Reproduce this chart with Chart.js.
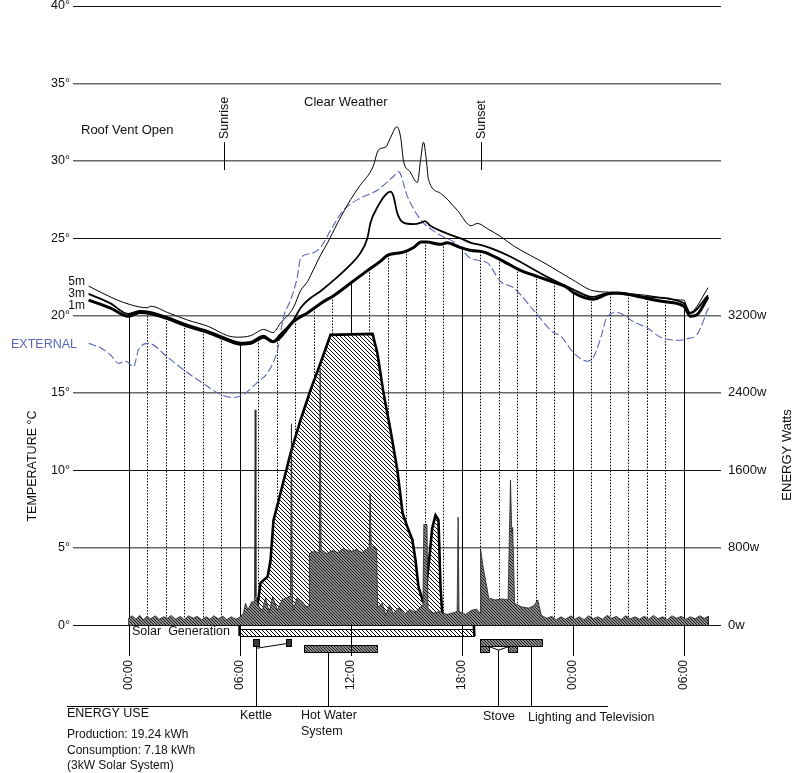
<!DOCTYPE html>
<html>
<head>
<meta charset="utf-8">
<script src="https://cdn.jsdelivr.net/npm/chart.js@4/dist/chart.umd.min.js"></script>
<style>
  html, body { margin: 0; padding: 0; background: #fff; }
  canvas { display: block; }
</style>
</head>
<body>
<canvas id="chart" width="792" height="773"></canvas>
<script>
// ---- axis ticks ----
const TIME_TICKS = [0, 6, 12, 18, 24, 30];
const TIME_LABELS = ['00:00', '06:00', '12:00', '18:00', '00:00', '06:00'];
const TEMP_TICKS = [0, 5, 10, 15, 20, 25, 30, 35, 40];
const WATT_TICKS = [0, 800, 1600, 2400, 3200];

// ---- temperatures, [hour, °C] (hours counted from the first midnight) ----
const TEMP_5M = [
  [-2.16, 21.9], [-1.5, 21.5], [-0.6, 21.0], [0.1, 20.7], [1.0, 20.5], [1.2, 20.6], [2.1, 20.2],
  [3.2, 19.7], [4.3, 19.3], [5.35, 18.7], [5.9, 18.6], [6.6, 18.7], [7.3, 19.1], [7.8, 18.9],
  [8.2, 19.5], [8.9, 20.5], [9.29, 21.6], [9.67, 22.2], [10.0, 23.0], [10.37, 23.9], [10.75, 24.7],
  [11.3, 26.0], [12.0, 27.5], [12.5, 28.4], [13.2, 29.6], [13.5, 30.7], [13.9, 30.9], [14.15, 31.5],
  [14.5, 32.2], [14.7, 31.5], [14.85, 30.0], [15.2, 29.3], [15.6, 28.6], [15.77, 30.0], [15.93, 31.2],
  [16.09, 30.0], [16.2, 28.8], [16.85, 27.9], [17.76, 26.8], [18.5, 25.8], [18.84, 25.95], [19.4, 25.6],
  [20.1, 25.1], [20.8, 24.5], [22.6, 23.3], [24.0, 22.3], [25.1, 21.6], [26.2, 21.5], [28.0, 21.3],
  [29.8, 21.0], [30.0, 21.0], [30.24, 20.2], [30.5, 20.3], [31.3, 21.8]
];
const TEMP_3M = [
  [-2.16, 21.4], [-1.0, 20.8], [0, 20.1], [0.6, 20.3], [1.1, 20.25], [2.1, 19.9], [3.2, 19.4],
  [4.3, 19.0], [5.35, 18.5], [6.05, 18.25], [6.6, 18.3], [7.3, 18.7], [7.8, 18.35], [8.2, 18.8],
  [8.9, 19.7], [9.3, 20.5], [9.7, 21.0], [10.4, 21.6], [11.1, 22.3], [12.0, 23.3], [12.5, 24.0],
  [12.9, 25.0], [13.07, 26.0], [13.44, 27.0], [13.88, 27.8], [14.15, 28.0], [14.31, 27.7], [14.52, 26.6],
  [14.85, 26.0], [15.4, 25.9], [15.8, 26.0], [16.0, 26.1], [16.3, 25.8], [17.2, 25.3], [17.9, 25.0],
  [18.5, 24.7], [19.2, 24.5], [20.1, 24.1], [20.8, 23.7], [22.6, 22.5], [24.0, 21.7], [25.05, 21.2],
  [25.9, 21.45], [28.0, 21.2], [30.0, 20.8], [30.35, 20.15], [31.3, 21.3]
];
const TEMP_1M = [
  [-2.16, 21.0], [-1.0, 20.5], [0, 19.95], [0.6, 20.2], [1.1, 20.15], [2.1, 19.8], [3.2, 19.3],
  [4.3, 18.9], [5.35, 18.4], [6.05, 18.15], [6.6, 18.2], [7.3, 18.6], [7.8, 18.3], [8.2, 18.6],
  [8.9, 19.6], [9.7, 20.2], [10.4, 20.8], [11.1, 21.3], [12.0, 22.1], [12.9, 22.9], [13.6, 23.5],
  [14.0, 23.9], [14.85, 24.1], [15.4, 24.4], [15.8, 24.75], [16.1, 24.75], [16.85, 24.6], [17.2, 24.7],
  [17.9, 24.4], [18.5, 24.2], [19.2, 24.1], [20.1, 23.6], [21.2, 22.9], [21.9, 22.6], [22.6, 22.3],
  [23.7, 21.8], [24.0, 21.5], [25.1, 21.05], [25.9, 21.4], [26.4, 21.45], [27.3, 21.3], [28.0, 21.1],
  [28.9, 20.9], [30.0, 20.6], [30.35, 19.95], [30.7, 20.05], [31.3, 21.2]
];
const TEMP_EXTERNAL = [
  [-2.16, 18.2], [-1.5, 17.9], [-0.97, 17.45], [-0.54, 16.9], [-0.16, 17.05], [0.27, 16.7], [0.54, 17.8],
  [1.08, 18.2], [2.11, 17.3], [3.19, 16.3], [4.05, 15.6], [4.97, 14.9], [5.67, 14.7], [6.21, 14.9],
  [6.97, 15.7], [7.51, 16.3], [8.05, 17.8], [8.37, 19.9], [8.75, 21.0], [9.1, 22.4], [9.29, 23.7],
  [9.83, 24.0], [10.37, 24.4], [10.91, 25.5], [11.61, 26.8], [12.53, 27.6], [13.44, 28.1], [14.31, 29.0],
  [14.58, 29.3], [15.06, 27.7], [15.77, 26.2], [16.68, 25.3], [17.76, 24.6], [18.47, 23.7], [19.38, 23.4],
  [20.09, 22.2], [20.79, 21.8], [21.87, 20.35], [22.95, 18.9], [23.33, 18.7], [24.03, 17.6], [24.78, 17.05],
  [25.11, 17.3], [25.49, 18.5], [25.86, 19.95], [26.4, 20.2], [27.27, 19.6], [28.02, 19.2], [28.73, 18.6],
  [29.81, 18.4], [30.18, 18.5], [30.72, 18.8], [31.32, 20.5]
];

// ---- energy, [hour, watts] ----
const SOLAR_W = [
  [6.0, -114], [6.0, 30], [6.32, 125], [6.97, 210], [7.13, 435], [7.51, 500], [7.67, 670], [7.83, 1085],
  [8.21, 1365], [8.75, 1775], [9.29, 2120], [9.83, 2430], [10.37, 2710], [10.91, 3000], [13.18, 3010],
  [13.44, 2810], [13.77, 2400], [14.15, 2015], [14.52, 1600], [14.8, 1160], [15.06, 1015], [15.33, 880],
  [15.5, 670], [15.66, 395], [15.88, 260], [15.98, 225], [16.25, 700], [16.4, 1000], [16.58, 1135],
  [16.74, 1085], [16.85, 395], [16.95, 100], [17.76, 85], [18.25, 60], [18.5, 45], [18.65, 0], [18.68, -114]
];
const CONSUMPTION_W = [
  [0, 0], [0, 70], [0.2, 95], [0.4, 60], [0.6, 100], [0.8, 55], [1.0, 90], [1.2, 65], [1.45, 95],
  [1.65, 60], [1.9, 85], [2.1, 70], [2.3, 100], [2.55, 60], [2.8, 90], [3.0, 55], [3.25, 95], [3.5, 70],
  [3.7, 90], [3.95, 55], [4.2, 85], [4.4, 60], [4.6, 95], [4.85, 65], [5.1, 90], [5.3, 55], [5.55, 85],
  [5.8, 60], [6.0, 80], [6.2, 120], [6.32, 225], [6.45, 155], [6.65, 240], [6.8, 240], [6.84, 2225],
  [6.88, 300], [6.97, 225], [7.2, 125], [7.4, 280], [7.6, 125], [7.78, 290], [8.05, 155], [8.3, 260],
  [8.75, 300], [8.8, 2080], [8.85, 260], [8.9, 155], [9.1, 280], [9.4, 240], [9.6, 185], [9.75, 200],
  [9.77, 740], [10.0, 760], [10.3, 750], [10.35, 2640], [10.4, 780], [10.7, 740], [11.0, 770], [11.3, 750],
  [11.6, 790], [12.0, 760], [12.3, 780], [12.6, 750], [12.9, 790], [13.0, 800], [13.05, 1365], [13.1, 820],
  [13.4, 790], [13.45, 185], [13.7, 225], [13.9, 100], [14.1, 210], [14.3, 120], [14.6, 180], [14.9, 110],
  [15.2, 160], [15.5, 130], [15.75, 185], [15.9, 200], [15.95, 1040], [16.12, 1040], [16.17, 180],
  [16.4, 120], [16.8, 140], [17.2, 110], [17.6, 130], [17.75, 140], [17.8, 1115], [17.85, 140], [18.2, 110],
  [18.5, 150], [18.8, 165], [19.0, 120], [19.02, 775], [19.15, 600], [19.35, 395], [19.45, 280], [19.8, 260],
  [20.2, 270], [20.5, 260], [20.63, 1500], [20.7, 950], [20.75, 1010], [20.85, 225], [21.2, 190],
  [21.6, 175], [21.9, 200], [22.1, 260], [22.3, 100], [22.6, 70], [22.85, 90], [23.1, 55], [23.35, 85],
  [23.6, 60], [23.9, 95], [24.1, 60], [24.35, 85], [24.6, 55], [24.85, 95], [25.1, 65], [25.35, 85],
  [25.6, 60], [25.85, 100], [26.1, 70], [26.35, 90], [26.6, 55], [26.85, 95], [27.1, 65], [27.35, 85],
  [27.6, 60], [27.85, 90], [28.1, 60], [28.35, 100], [28.6, 65], [28.85, 85], [29.1, 55], [29.35, 95],
  [29.6, 70], [29.85, 90], [30.1, 60], [30.35, 85], [30.6, 65], [30.85, 95], [31.1, 70], [31.32, 90], [31.32, 0]
];

// ---- appliance periods, [start hour, end hour] ----
const SOLAR_PERIOD = [[6.0, 18.68]];
const KETTLE_USES = [[6.7, 7.02], [8.53, 8.8]];
const HOT_WATER_USES = [[9.5, 13.44]];
const LIGHTING_TV_USES = [[19.0, 22.35]];
const STOVE_USES = [[19.0, 19.49], [20.52, 21.0]];

// ---- day events and notes ----
const SUN_EVENTS = [['Sunrise', 5.13], ['Sunset', 19.03]];
const ENERGY_NOTES = ['Production: 19.24 kWh', 'Consumption: 7.18 kWh', '(3kW Solar System)'];

const FONT = "'Liberation Sans', Arial, Helvetica, sans-serif";
const BLUE = '#5a64bd';
const canvas = document.getElementById('chart');
const ctx2d = canvas.getContext('2d');

function hatch(bg, fg, size, lw) {
  const tile = document.createElement('canvas');
  tile.width = tile.height = size;
  const g = tile.getContext('2d');
  g.fillStyle = bg;
  g.fillRect(0, 0, size, size);
  g.strokeStyle = fg;
  g.lineWidth = lw;
  g.beginPath();
  g.moveTo(-1, -1); g.lineTo(size + 1, size + 1);
  g.moveTo(-1, size - 1); g.lineTo(1, size + 1);
  g.moveTo(size - 1, -1); g.lineTo(size + 1, 1);
  g.stroke();
  return ctx2d.createPattern(tile, 'repeat');
}
const LIGHT_HATCH = hatch('#ffffff', '#000000', 4, 1);
const DARK_HATCH = hatch('#8c8c8c', '#1e1e1e', 3, 1);

const pts = arr => arr.map(([x, y]) => ({ x, y }));

function valueAt(series, h) {
  for (let i = 1; i < series.length; i++) {
    const [x0, y0] = series[i - 1], [x1, y1] = series[i];
    if (h >= x0 && h <= x1) return x1 === x0 ? y1 : y0 + (y1 - y0) * (h - x0) / (x1 - x0);
  }
  return series[series.length - 1][1];
}

function text(ctx, s, x, y, opt = {}) {
  ctx.save();
  ctx.translate(x, y);
  if (opt.rot) ctx.rotate(opt.rot);
  ctx.font = (opt.size || 12.5) + 'px ' + FONT;
  ctx.fillStyle = opt.color || '#111';
  ctx.textAlign = opt.align || 'left';
  ctx.textBaseline = 'middle';
  ctx.fillText(s, 0, 0);
  ctx.restore();
}

// usage rows below the zero line, hour lines dropped from the 1m curve
const decorations = {
  id: 'decorations',
  beforeDatasetsDraw(chart) {
    const { ctx, chartArea, scales: { x, y } } = chart;
    const rect = (h0, h1, v0, v1, fill) => {
      const px0 = Math.round(x.getPixelForValue(h0)) + 0.5;
      const px1 = Math.round(x.getPixelForValue(h1)) + 0.5;
      const py0 = Math.round(y.getPixelForValue(v0)) + 0.5;
      const py1 = Math.round(y.getPixelForValue(v1)) + 0.5;
      ctx.fillStyle = fill;
      ctx.fillRect(px0, py0, px1 - px0, py1 - py0);
      ctx.strokeStyle = '#000';
      ctx.lineWidth = 1;
      ctx.strokeRect(px0, py0, px1 - px0, py1 - py0);
    };
    ctx.save();
    SOLAR_PERIOD.forEach(([a, b]) => rect(a, b, -0.26, -0.71, LIGHT_HATCH));
    KETTLE_USES.forEach(([a, b]) => rect(a, b, -0.9, -1.36, '#3a3a3a'));
    HOT_WATER_USES.forEach(([a, b]) => rect(a, b, -1.29, -1.74, DARK_HATCH));
    LIGHTING_TV_USES.forEach(([a, b]) => rect(a, b, -0.9, -1.36, DARK_HATCH));
    STOVE_USES.forEach(([a, b]) => rect(a, b, -1.36, -1.74, DARK_HATCH));

    ctx.strokeStyle = '#000';
    ctx.lineWidth = 1;
    for (let h = 0; h <= 30; h++) {
      const px = Math.round(x.getPixelForValue(h)) + 0.5;
      const top = y.getPixelForValue(valueAt(TEMP_1M, h));
      const solid = TIME_TICKS.includes(h);
      ctx.setLineDash(solid ? [] : [1.5, 1.5]);
      ctx.beginPath();
      ctx.moveTo(px, top);
      ctx.lineTo(px, solid ? chartArea.bottom : y.getPixelForValue(0));
      ctx.stroke();
    }
    ctx.restore();
  },
  afterDraw(chart) {
    const { ctx, chartArea, scales: { x, y } } = chart;
    ctx.save();
    ctx.strokeStyle = '#000';
    ctx.lineWidth = 1;

    // sunrise / sunset markers
    SUN_EVENTS.forEach(([name, h]) => {
      const px = Math.round(x.getPixelForValue(h)) + 0.5;
      ctx.beginPath();
      ctx.moveTo(px, y.getPixelForValue(31.2));
      ctx.lineTo(px, y.getPixelForValue(29.4));
      ctx.stroke();
      text(ctx, name, px, y.getPixelForValue(31.4), { rot: -Math.PI / 2 });
    });

    // leaders from the usage rows down to the ENERGY USE rule
    const rule = chartArea.bottom + 50;
    const X = h => Math.round(x.getPixelForValue(h)) + 0.5;
    const Y = v => y.getPixelForValue(v);
    ctx.beginPath();
    // kettle
    const k0 = (KETTLE_USES[0][0] + KETTLE_USES[0][1]) / 2;
    ctx.moveTo(X(k0), Y(-1.36)); ctx.lineTo(X(k0), rule);
    ctx.moveTo(X(k0), Y(-1.5)); ctx.lineTo(X(KETTLE_USES[1][0]), Y(-1.2));
    // hot water system
    ctx.moveTo(X(10.8), Y(-1.74)); ctx.lineTo(X(10.8), rule);
    // stove
    ctx.moveTo(X(STOVE_USES[0][1]), Y(-1.4)); ctx.lineTo(X(19.98), Y(-1.62));
    ctx.lineTo(X(STOVE_USES[1][0]), Y(-1.4));
    ctx.moveTo(X(19.98), Y(-1.62)); ctx.lineTo(X(19.98), rule);
    // lighting and television
    ctx.moveTo(X(21.76), Y(-1.36)); ctx.lineTo(X(21.76), rule);
    ctx.stroke();

    ctx.beginPath();
    ctx.moveTo(67, rule + 0.5);
    ctx.lineTo(608, rule + 0.5);
    ctx.stroke();

    // labels
    text(ctx, 'Roof Vent Open', 81, 130, { size: 13 });
    text(ctx, 'Clear Weather', 304, 102, { size: 13 });
    text(ctx, '5m', 85, 282, { align: 'right', size: 12 });
    text(ctx, '3m', 85, 294, { align: 'right', size: 12 });
    text(ctx, '1m', 85, 306, { align: 'right', size: 12 });
    text(ctx, 'EXTERNAL', 11, 345, { color: BLUE, size: 12.5 });
    text(ctx, 'TEMPERATURE \u00B0C', 33, 466, { rot: -Math.PI / 2, align: 'center' });
    text(ctx, 'ENERGY Watts', 787, 455, { rot: -Math.PI / 2, align: 'center', size: 13 });
    text(ctx, 'Solar  Generation', 132, 632, { size: 12.5 });
    text(ctx, 'ENERGY USE', 67, 714, { size: 12.5 });
    ENERGY_NOTES.forEach((s, i) => text(ctx, s, 67, 735 + i * 15.5, { size: 12 }));
    text(ctx, 'Kettle', 240, 716);
    text(ctx, 'Hot Water', 301, 716);
    text(ctx, 'System', 301, 732);
    text(ctx, 'Stove', 483, 717);
    text(ctx, 'Lighting and Television', 528, 718);
    ctx.restore();
  }
};

const tempLine = (data, width, order) => ({
  data: pts(data), yAxisID: 'y', borderColor: '#000', borderWidth: width,
  pointRadius: 0, fill: false, cubicInterpolationMode: 'monotone', order
});

const fixVertical = width => axis => {
  axis.width = width;
  axis.paddingTop = 0;
  axis.paddingBottom = 0;
};

new Chart(ctx2d, {
  type: 'line',
  data: {
    datasets: [
      { label: 'Solar generation', data: pts(SOLAR_W), yAxisID: 'yW', borderColor: '#000', borderWidth: 2.6,
        backgroundColor: LIGHT_HATCH, fill: 'origin', pointRadius: 0, tension: 0, order: 9 },
      { label: 'Consumption', data: pts(CONSUMPTION_W), yAxisID: 'yW', borderColor: '#222', borderWidth: 0.8,
        backgroundColor: DARK_HATCH, fill: 'origin', pointRadius: 0, tension: 0, order: 8 },
      { label: 'External', data: pts(TEMP_EXTERNAL), yAxisID: 'y', borderColor: BLUE, borderWidth: 1.1,
        borderDash: [8, 3], pointRadius: 0, fill: false, cubicInterpolationMode: 'monotone', order: 4 },
      Object.assign({ label: '5m' }, tempLine(TEMP_5M, 1, 3)),
      Object.assign({ label: '3m' }, tempLine(TEMP_3M, 1.8, 2)),
      Object.assign({ label: '1m' }, tempLine(TEMP_1M, 3, 1))
    ]
  },
  options: {
    responsive: false,
    animation: false,
    devicePixelRatio: 1,
    layout: { padding: { top: 6, left: 0, right: 0, bottom: 0 } },
    plugins: { legend: { display: false }, tooltip: { enabled: false } },
    scales: {
      x: {
        type: 'linear', min: -3, max: 32,
        grid: { display: false, drawTicks: false },
        border: { display: false },
        afterBuildTicks: axis => { axis.ticks = TIME_TICKS.map(value => ({ value })); },
        afterFit: axis => { axis.height = 117; axis.paddingLeft = 0; axis.paddingRight = 0; },
        ticks: {
          autoSkip: false, minRotation: 90, maxRotation: 90, padding: 4, color: '#111',
          font: { family: FONT, size: 12 },
          callback: v => TIME_LABELS[TIME_TICKS.indexOf(v)]
        }
      },
      y: {
        position: 'left', min: -2, max: 40,
        grid: {
          drawTicks: false,
          color: c => [0, 10, 25, 40].includes(c.tick.value) ? '#111' : '#6a6a6a',
          lineWidth: c => [0, 10, 25, 40].includes(c.tick.value) ? 1 : 1.6
        },
        border: { display: false },
        afterBuildTicks: axis => { axis.ticks = TEMP_TICKS.map(value => ({ value })); },
        afterFit: fixVertical(73),
        ticks: { padding: 3, color: '#111', font: { family: FONT, size: 12.5 }, callback: v => v + '\u00B0' }
      },
      yW: {
        position: 'right', min: -320, max: 6400,
        grid: { display: false, drawTicks: false },
        border: { display: false },
        afterBuildTicks: axis => { axis.ticks = WATT_TICKS.map(value => ({ value })); },
        afterFit: fixVertical(71),
        ticks: { padding: 7, color: '#111', font: { family: FONT, size: 13 }, callback: v => v + 'w' }
      }
    }
  },
  plugins: [decorations]
});
</script>
</body>
</html>
